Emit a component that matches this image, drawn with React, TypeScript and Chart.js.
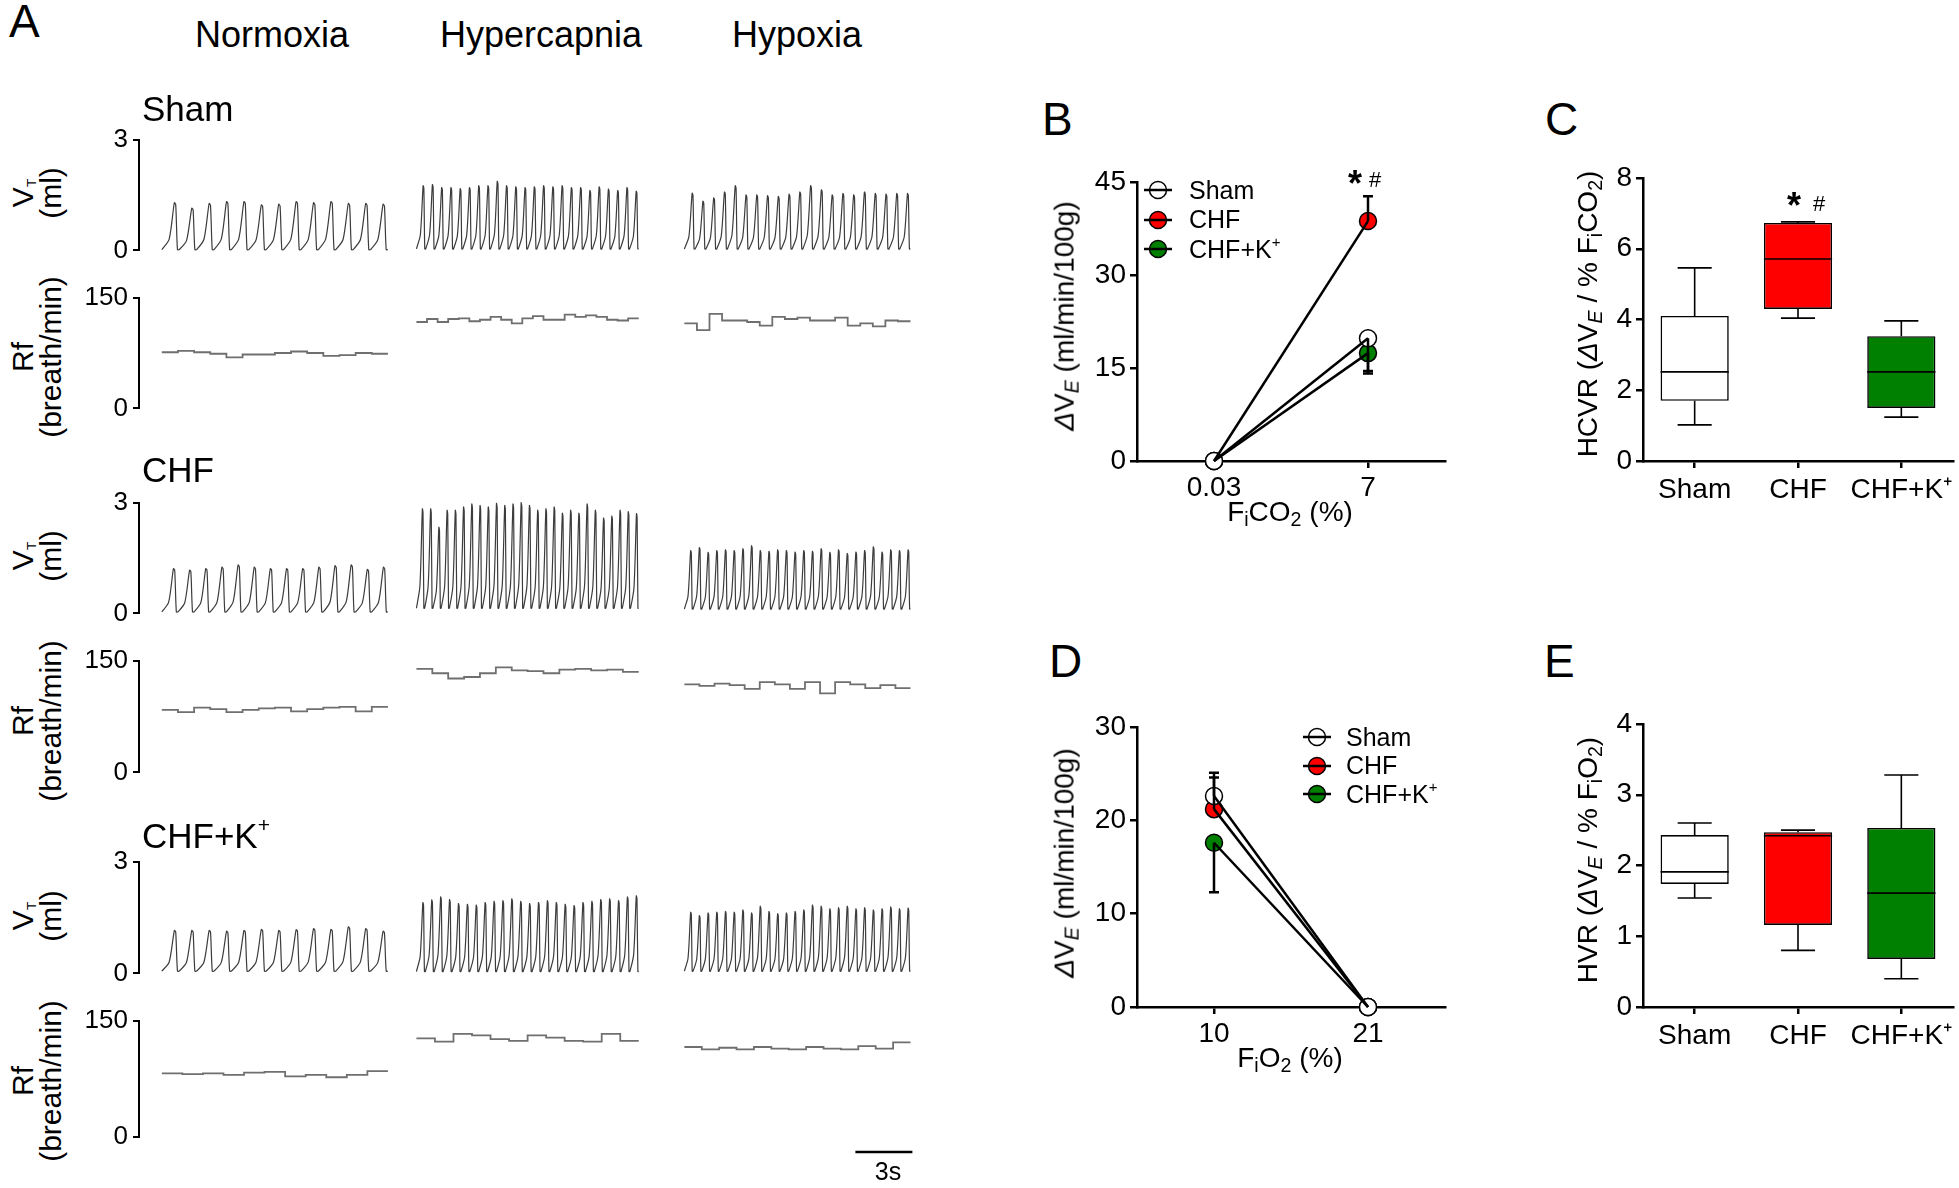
import React, { useEffect, useRef } from 'react';
import { Chart, registerables } from 'chart.js';

Chart.register(...registerables);

const FONT = '"Liberation Sans", Arial, Helvetica, sans-serif';
Chart.defaults.font.family = FONT;
Chart.defaults.color = '#000';

// ================= Panel A : raw traces =================
const conditionNames = ['Normoxia', 'Hypercapnia', 'Hypoxia'];
const groupNames = ['Sham', 'CHF', 'CHF+K'];
// time (s) of each recording segment on the shared time axis
const segmentStartS = [1.2, 14.6, 28.7];
const segmentEndS = [13.1, 26.3, 40.6];
const traceSpanS = 41.1;
const scaleBarStartS = 37.7;
const scaleBarLengthS = 3;
const vtMax = 3;
const rfMax = 150;

// tidal volume peak of each breath (ml)
const shamVtNormoxia = [1.29, 1.14, 1.27, 1.32, 1.32, 1.23, 1.25, 1.32, 1.29, 1.32, 1.27, 1.27, 1.25];
const shamVtHypercapnia = [1.75, 1.78, 1.7, 1.7, 1.67, 1.7, 1.75, 1.75, 1.87, 1.75, 1.72, 1.7, 1.72, 1.75, 1.72, 1.75, 1.7, 1.7, 1.62, 1.72, 1.66, 1.62, 1.7, 1.6];
const shamVtHypoxia = [1.55, 1.33, 1.42, 1.58, 1.75, 1.5, 1.5, 1.48, 1.46, 1.52, 1.58, 1.75, 1.64, 1.5, 1.54, 1.5, 1.58, 1.54, 1.52, 1.54, 1.54];
const chfVtNormoxia = [1.21, 1.17, 1.21, 1.25, 1.31, 1.25, 1.21, 1.21, 1.21, 1.25, 1.29, 1.31, 1.19, 1.25];
const chfVtHypercapnia = [2.83, 2.83, 2.33, 2.79, 2.79, 2.88, 2.96, 2.92, 2.88, 2.98, 2.92, 2.96, 3.0, 2.92, 2.79, 2.83, 2.88, 2.71, 2.79, 2.71, 2.96, 2.79, 2.58, 2.63, 2.79, 2.75, 2.7];
const chfVtHypoxia = [1.7, 1.78, 1.65, 1.7, 1.72, 1.7, 1.75, 1.83, 1.7, 1.68, 1.72, 1.7, 1.66, 1.7, 1.68, 1.75, 1.65, 1.72, 1.62, 1.66, 1.7, 1.8, 1.66, 1.72, 1.7, 1.72];
const chfkVtNormoxia = [1.15, 1.15, 1.15, 1.13, 1.15, 1.18, 1.15, 1.17, 1.2, 1.18, 1.25, 1.2, 1.13];
const chfkVtHypercapnia = [1.9, 1.97, 2.05, 1.98, 1.87, 1.85, 1.83, 1.9, 1.93, 1.95, 2.0, 1.93, 1.87, 1.9, 1.95, 1.9, 1.85, 1.82, 1.9, 1.93, 1.98, 2.0, 1.95, 2.05, 2.08];
const chfkVtHypoxia = [1.64, 1.55, 1.62, 1.64, 1.66, 1.64, 1.7, 1.62, 1.8, 1.66, 1.6, 1.62, 1.66, 1.7, 1.83, 1.8, 1.73, 1.76, 1.8, 1.73, 1.76, 1.7, 1.73, 1.78, 1.73, 1.75];
// end-expiratory level of each segment (ml)
const shamVtTrough = [0.02, 0.04, 0.04];
const chfVtTrough = [0.04, 0.14, 0.12];
const chfkVtTrough = [0.06, 0.05, 0.06];

// respiratory frequency, successive steps (breath/min)
const shamRfNormoxia = [76, 78, 76, 74, 69, 73, 73, 75, 77, 75, 71, 72, 75, 74];
const shamRfHypercapnia = [117, 121, 117, 121, 122, 118, 120, 124, 120, 115, 122, 125, 120, 120, 127, 124, 126, 124, 120, 119, 122];
const shamRfHypoxia = [115, 106, 128, 119, 119, 117, 112, 124, 121, 123, 119, 119, 123, 112, 115, 111, 119, 118];
const chfRfNormoxia = [84, 81, 87, 85, 81, 84, 86, 87, 82, 85, 87, 88, 82, 88];
const chfRfHypercapnia = [139, 133, 126, 128, 133, 141, 137, 136, 133, 138, 139, 137, 138, 135];
const chfRfHypoxia = [118, 116, 119, 117, 112, 121, 118, 112, 121, 106, 121, 118, 113, 117, 113];
const chfkRfNormoxia = [82, 81, 82, 80, 83, 84, 78, 80, 77, 80, 85];
const chfkRfHypercapnia = [127, 123, 133, 131, 126, 124, 131, 128, 124, 123, 133, 124];
const chfkRfHypoxia = [116, 113, 115, 113, 116, 114, 113, 116, 114, 113, 117, 114, 122];

const vtByGroup = [
  [shamVtNormoxia, shamVtHypercapnia, shamVtHypoxia],
  [chfVtNormoxia, chfVtHypercapnia, chfVtHypoxia],
  [chfkVtNormoxia, chfkVtHypercapnia, chfkVtHypoxia],
];
const vtTroughByGroup = [shamVtTrough, chfVtTrough, chfkVtTrough];
const rfByGroup = [
  [shamRfNormoxia, shamRfHypercapnia, shamRfHypoxia],
  [chfRfNormoxia, chfRfHypercapnia, chfRfHypoxia],
  [chfkRfNormoxia, chfkRfHypercapnia, chfkRfHypoxia],
];

// ================= Panel B / D : ventilatory response =================
const seriesNames = ['Sham', 'CHF', 'CHF+K'];
const seriesColors = ['#ffffff', '#ff0000', '#008000'];
const fico2Labels = ['0.03', '7'];
const bSham = [0, 19.8];
const bChf = [0, 38.7];
const bChfK = [0, 17.4];
const bShamSem = [0, 5.3];
const bChfSem = [0, 4.0];
const bChfKSem = [0, 3.3];
const bErrorSide = [-1, 1, -1];

const fio2Labels = ['10', '21'];
const dSham = [22.6, 0];
const dChf = [21.2, 0];
const dChfK = [17.6, 0];
const dShamSem = [2.5, 0];
const dChfSem = [3.4, 0];
const dChfKSem = [5.3, 0];
const dErrorSide = [1, 1, -1];

// ================= Panel C / E : box plots =================
const boxLabels = ['Sham', 'CHF', 'CHF+K\u207A'];
const boxColors = ['#ffffff', '#ff0000', '#008000'];
const hcvrMin = [1.02, 4.04, 1.24];
const hcvrQ1 = [1.7, 4.3, 1.5];
const hcvrMedian = [2.52, 5.71, 2.52];
const hcvrQ3 = [4.1, 6.73, 3.53];
const hcvrMax = [5.46, 6.76, 3.96];
const hvrMin = [1.54, 0.8, 0.4];
const hvrQ1 = [1.74, 1.16, 0.68];
const hvrMedian = [1.91, 2.42, 1.61];
const hvrQ3 = [2.43, 2.47, 2.53];
const hvrMax = [2.6, 2.5, 3.28];

// ================= helpers =================
type Rect = { l: number; t: number; r: number; b: number };

function place(area: Rect, yW: number, xH: number, pad: Rect) {
  return {
    left: area.l - yW - pad.l,
    top: area.t - pad.t,
    width: area.r - area.l + yW + pad.l + pad.r,
    height: area.b - area.t + xH + pad.t + pad.b,
    padding: { left: pad.l, top: pad.t, right: pad.r, bottom: pad.b },
  };
}

function axisStyle(tickLen: number, width: number, gridExtra: any = {}) {
  return {
    grid: { display: true, drawOnChartArea: false, drawTicks: true, tickLength: tickLen, color: '#000', lineWidth: width, ...gridExtra },
    border: { display: true, color: '#000', width },
  };
}

// drawing style of one breath: [fraction of cycle, fraction of amplitude]
const breathShape = [
  [0, 0],
  [0.42, 0.22],
  [0.72, 1],
  [0.8, 0.96],
  [0.9, 0],
];

function vtPoints(peaks: number[], trough: number, s: number, e: number) {
  const p = (e - s) / peaks.length;
  const pts: { x: number; y: number }[] = [];
  peaks.forEach((pk, i) => {
    breathShape.forEach(([fx, fy]) => pts.push({ x: s + (i + fx) * p, y: trough + fy * (pk - trough) }));
  });
  pts.push({ x: e, y: trough });
  return pts;
}

function rfPoints(values: number[], s: number, e: number) {
  const step = (e - s) / values.length;
  const pts = values.map((v, i) => ({ x: s + i * step, y: v }));
  pts.push({ x: e, y: values[values.length - 1] });
  return pts;
}

const scaleBarPlugin = {
  id: 'scaleBar',
  afterDraw(chart: any) {
    const x = chart.scales.x;
    const ctx = chart.ctx;
    const x0 = x.getPixelForValue(scaleBarStartS);
    const x1 = x.getPixelForValue(scaleBarStartS + scaleBarLengthS);
    const y = chart.chartArea.bottom + 15;
    ctx.save();
    ctx.strokeStyle = '#000';
    ctx.lineWidth = 2.5;
    ctx.beginPath();
    ctx.moveTo(x0, y);
    ctx.lineTo(x1, y);
    ctx.stroke();
    ctx.restore();
  },
};

function traceChart(kind: 'vt' | 'rf', g: number, area: Rect, withScaleBar: boolean) {
  const yW = 70;
  const p = place(area, yW, 0, { l: 0, t: 16, r: 10, b: withScaleBar ? 30 : 16 });
  const yMax = kind === 'vt' ? vtMax : rfMax;
  const datasets = conditionNames.map((_, c) =>
    kind === 'vt'
      ? {
          data: vtPoints(vtByGroup[g][c], vtTroughByGroup[g][c], segmentStartS[c], segmentEndS[c]),
          borderColor: '#3c3c3c',
          borderWidth: 1.2,
          pointRadius: 0,
          tension: 0.25,
          clip: false,
        }
      : {
          data: rfPoints(rfByGroup[g][c], segmentStartS[c], segmentEndS[c]),
          borderColor: '#6f6f6f',
          borderWidth: 1.8,
          pointRadius: 0,
          stepped: true,
          clip: false,
        }
  );
  const config: any = {
    type: 'line',
    data: { datasets },
    options: {
      responsive: false,
      animation: false,
      devicePixelRatio: 1,
      events: [],
      layout: { padding: p.padding },
      plugins: { legend: { display: false }, tooltip: { enabled: false } },
      scales: {
        x: { type: 'linear', min: 0, max: traceSpanS, display: false },
        y: {
          type: 'linear',
          min: 0,
          max: yMax,
          afterFit: (s: any) => {
            s.width = yW;
          },
          ticks: { stepSize: yMax, font: { size: 26 }, color: '#000', padding: 5 },
          ...axisStyle(6, 2),
        },
      },
    },
    plugins: withScaleBar ? [scaleBarPlugin] : [],
  };
  return { ...p, config };
}

function errorBarPlugin(values: number[][], sems: number[][], sides: number[]) {
  return {
    id: 'errorBars',
    afterDatasetsDraw(chart: any) {
      const x = chart.scales.x;
      const y = chart.scales.y;
      const ctx = chart.ctx;
      ctx.save();
      ctx.strokeStyle = '#000';
      ctx.lineWidth = 2.5;
      values.forEach((vals, k) => {
        vals.forEach((v, i) => {
          const sem = sems[k][i];
          if (!sem) return;
          const px = x.getPixelForValue(i);
          const y0 = y.getPixelForValue(v);
          const y1 = y.getPixelForValue(v + sides[k] * sem);
          ctx.beginPath();
          ctx.moveTo(px, y0);
          ctx.lineTo(px, y1);
          ctx.moveTo(px - 5, y1);
          ctx.lineTo(px + 5, y1);
          ctx.stroke();
        });
      });
      ctx.restore();
    },
  };
}

function responseChart(labels: string[], values: number[][], sems: number[][], sides: number[], yMax: number, yStep: number, area: Rect) {
  const yW = 75;
  const xH = 50;
  const p = place(area, yW, xH, { l: 0, t: 24, r: 12, b: 0 });
  const pointSets = values.map((v, k) => ({
    data: v,
    showLine: false,
    pointRadius: 8.5,
    pointBackgroundColor: seriesColors[k],
    pointBorderColor: '#000',
    pointBorderWidth: 1.5,
    order: 1 + k,
    clip: false,
  }));
  const lineSets = values.map((v) => ({
    data: v,
    borderColor: '#000',
    borderWidth: 2.5,
    pointRadius: 0,
    order: 0,
    clip: false,
  }));
  const config: any = {
    type: 'line',
    data: { labels, datasets: [...pointSets, ...lineSets] },
    options: {
      responsive: false,
      animation: false,
      devicePixelRatio: 1,
      events: [],
      layout: { padding: p.padding },
      plugins: { legend: { display: false }, tooltip: { enabled: false } },
      scales: {
        x: {
          type: 'category',
          offset: true,
          afterFit: (s: any) => {
            s.height = xH;
          },
          ticks: { font: { size: 28 }, color: '#000', padding: 3, maxRotation: 0, minRotation: 0, autoSkip: false },
          ...axisStyle(7, 2.5, { offset: false }),
        },
        y: {
          type: 'linear',
          min: 0,
          max: yMax,
          afterFit: (s: any) => {
            s.width = yW;
          },
          ticks: { stepSize: yStep, font: { size: 28 }, color: '#000', padding: 4 },
          ...axisStyle(7, 2.5),
        },
      },
    },
    plugins: [errorBarPlugin(values, sems, sides)],
  };
  return { ...p, config };
}

function boxPlugin(mins: number[], q1s: number[], meds: number[], q3s: number[], maxs: number[]) {
  return {
    id: 'boxWhiskers',
    afterDatasetsDraw(chart: any) {
      const y = chart.scales.y;
      const meta = chart.getDatasetMeta(0);
      const ctx = chart.ctx;
      const py = (v: number) => y.getPixelForValue(v);
      ctx.save();
      ctx.strokeStyle = '#000';
      ctx.lineWidth = 1.6;
      meta.data.forEach((bar: any, i: number) => {
        const { x, width } = bar.getProps(['x', 'width'], true);
        const half = width / 2;
        const cap = width / 4;
        ctx.beginPath();
        ctx.moveTo(x - half, py(meds[i]));
        ctx.lineTo(x + half, py(meds[i]));
        ctx.moveTo(x, py(q3s[i]));
        ctx.lineTo(x, py(maxs[i]));
        ctx.moveTo(x - cap, py(maxs[i]));
        ctx.lineTo(x + cap, py(maxs[i]));
        ctx.moveTo(x, py(q1s[i]));
        ctx.lineTo(x, py(mins[i]));
        ctx.moveTo(x - cap, py(mins[i]));
        ctx.lineTo(x + cap, py(mins[i]));
        ctx.stroke();
      });
      ctx.restore();
    },
  };
}

function boxChart(mins: number[], q1s: number[], meds: number[], q3s: number[], maxs: number[], yMax: number, yStep: number, area: Rect) {
  const yW = 75;
  const xH = 55;
  const p = place(area, yW, xH, { l: 0, t: 24, r: 6, b: 0 });
  const config: any = {
    type: 'bar',
    data: {
      labels: boxLabels,
      datasets: [
        {
          data: q1s.map((q, i) => [q, q3s[i]]),
          backgroundColor: boxColors,
          borderColor: '#000',
          borderWidth: 1.6,
          borderSkipped: false,
          barPercentage: 0.66,
          categoryPercentage: 1,
        },
      ],
    },
    options: {
      responsive: false,
      animation: false,
      devicePixelRatio: 1,
      events: [],
      layout: { padding: p.padding },
      plugins: { legend: { display: false }, tooltip: { enabled: false } },
      scales: {
        x: {
          type: 'category',
          afterFit: (s: any) => {
            s.height = xH;
          },
          ticks: { font: { size: 28 }, color: '#000', padding: 5, maxRotation: 0, minRotation: 0, autoSkip: false },
          ...axisStyle(7, 2.5, { offset: false }),
        },
        y: {
          type: 'linear',
          min: 0,
          max: yMax,
          afterFit: (s: any) => {
            s.width = yW;
          },
          ticks: { stepSize: yStep, font: { size: 28 }, color: '#000', padding: 4 },
          ...axisStyle(7, 2.5),
        },
      },
    },
    plugins: [boxPlugin(mins, q1s, meds, q3s, maxs)],
  };
  return { ...p, config };
}

// ================= components =================
function ChartBox({ spec }: { spec: { left: number; top: number; width: number; height: number; config: any } }) {
  const ref = useRef<HTMLCanvasElement>(null);
  useEffect(() => {
    const chart = new Chart(ref.current as HTMLCanvasElement, spec.config);
    return () => chart.destroy();
  }, []);
  return (
    <canvas
      ref={ref}
      width={spec.width}
      height={spec.height}
      style={{ position: 'absolute', left: spec.left, top: spec.top, width: spec.width, height: spec.height }}
    />
  );
}

const subStyle: React.CSSProperties = { fontSize: '0.7em', verticalAlign: '-0.28em', lineHeight: 0 };
const supStyle: React.CSSProperties = { fontSize: '0.6em', verticalAlign: '0.75em', lineHeight: 0 };

function HText({ x, base, size, align = 'left', bold = false, children }: any) {
  const style: React.CSSProperties = {
    position: 'absolute',
    left: x,
    top: base - 0.8465 * size,
    fontSize: size,
    lineHeight: 1,
    whiteSpace: 'nowrap',
    fontWeight: bold ? 'bold' : 'normal',
    transform: align === 'center' ? 'translateX(-50%)' : undefined,
  };
  return <div style={style}>{children}</div>;
}

function VText({ cx, cy, size, lineHeight = 1.1, children }: any) {
  return (
    <div
      style={{
        position: 'absolute',
        left: cx,
        top: cy,
        transform: 'translate(-50%, -50%) rotate(-90deg)',
        fontSize: size,
        lineHeight,
        whiteSpace: 'nowrap',
        textAlign: 'center',
      }}
    >
      {children}
    </div>
  );
}

function LegendRow({ cx, cy, textX, color, children }: any) {
  return (
    <>
      <svg width={32} height={22} style={{ position: 'absolute', left: cx - 16, top: cy - 11 }}>
        <circle cx={16} cy={11} r={8.5} fill={color} stroke="#000" strokeWidth={1.5} />
        <line x1={2} y1={11} x2={30} y2={11} stroke="#000" strokeWidth={2.5} />
      </svg>
      <HText x={textX} base={cy + 9} size={25}>
        {children}
      </HText>
    </>
  );
}

function GroupLabel({ i }: { i: number }) {
  const name = groupNames[i];
  return i === 2 ? (
    <>
      {name}
      <sup style={supStyle}>+</sup>
    </>
  ) : (
    <>{name}</>
  );
}

const dVE = (
  <>
    <i>Δ</i>V<sub style={subStyle}>
      <i>E</i>
    </sub>
  </>
);

export default function App() {
  const groupTops = [
    { vt: [135, 255], rf: [293, 413], label: 121 },
    { vt: [498, 618], rf: [656, 777], label: 482 },
    { vt: [857, 978], rf: [1016, 1137], label: 848 },
  ];
  const traceLeft = 139;
  const traceRight = 920;

  const traceSpecs: any[] = [];
  groupTops.forEach((g, i) => {
    traceSpecs.push(traceChart('vt', i, { l: traceLeft, t: g.vt[0], r: traceRight, b: g.vt[1] }, false));
    traceSpecs.push(traceChart('rf', i, { l: traceLeft, t: g.rf[0], r: traceRight, b: g.rf[1] }, i === 2));
  });

  const specB = responseChart(
    fico2Labels,
    [bSham, bChf, bChfK],
    [bShamSem, bChfSem, bChfKSem],
    bErrorSide,
    45,
    15,
    { l: 1137, t: 182, r: 1445, b: 461 }
  );
  const specD = responseChart(
    fio2Labels,
    [dSham, dChf, dChfK],
    [dShamSem, dChfSem, dChfKSem],
    dErrorSide,
    30,
    10,
    { l: 1137, t: 727, r: 1445, b: 1007 }
  );
  const specC = boxChart(hcvrMin, hcvrQ1, hcvrMedian, hcvrQ3, hcvrMax, 8, 2, { l: 1643, t: 178, r: 1953, b: 461 });
  const specE = boxChart(hvrMin, hvrQ1, hvrMedian, hvrQ3, hvrMax, 4, 1, { l: 1643, t: 724, r: 1953, b: 1007 });

  const columnCenters = [272, 541, 797];

  return (
    <div
      style={{
        position: 'absolute',
        left: 0,
        top: 0,
        width: 1959,
        height: 1188,
        background: '#fff',
        overflow: 'hidden',
        fontFamily: FONT,
        color: '#000',
      }}
    >
      {traceSpecs.map((s, i) => (
        <ChartBox key={'t' + i} spec={s} />
      ))}
      <ChartBox spec={specB} />
      <ChartBox spec={specC} />
      <ChartBox spec={specD} />
      <ChartBox spec={specE} />

      {/* panel letters */}
      <HText x={9} base={37} size={46}>A</HText>
      <HText x={1042} base={135} size={46}>B</HText>
      <HText x={1545} base={135} size={46}>C</HText>
      <HText x={1049} base={677} size={46}>D</HText>
      <HText x={1544} base={677} size={46}>E</HText>

      {/* panel A headings */}
      {conditionNames.map((c, i) => (
        <HText key={c} x={columnCenters[i]} base={47} size={36} align="center">
          {c}
        </HText>
      ))}
      {groupTops.map((g, i) => (
        <React.Fragment key={'g' + i}>
          <HText x={142} base={g.label} size={35}>
            <GroupLabel i={i} />
          </HText>
          <VText cx={37} cy={(g.vt[0] + g.vt[1]) / 2 - 2} size={30} lineHeight={0.93}>
            V<sub style={{ fontSize: '0.45em', verticalAlign: '-0.2em', lineHeight: 0 }}>T</sub>
            <br />
            (ml)
          </VText>
          <VText cx={37} cy={(g.rf[0] + g.rf[1]) / 2 + 4} size={30} lineHeight={0.93}>
            Rf
            <br />
            (breath/min)
          </VText>
        </React.Fragment>
      ))}
      <HText x={888} base={1180} size={25} align="center">
        3s
      </HText>

      {/* panel B texts */}
      <VText cx={1065} cy={316} size={28}>
        {dVE} (ml/min/100g)
      </VText>
      <HText x={1290} base={522} size={28} align="center">
        F<sub style={subStyle}>i</sub>CO<sub style={subStyle}>2</sub> (%)
      </HText>
      {seriesNames.map((n, k) => (
        <LegendRow key={'lb' + k} cx={1158} cy={190 + k * 29.5} textX={1189} color={seriesColors[k]}>
          {n}
          {k === 2 ? <sup style={supStyle}>+</sup> : null}
        </LegendRow>
      ))}
      <HText x={1348} base={196} size={36} bold>*</HText>
      <HText x={1369} base={188} size={22}>#</HText>

      {/* panel C texts */}
      <VText cx={1588} cy={314} size={28}>
        HCVR ({dVE} / % F<sub style={subStyle}>i</sub>CO<sub style={subStyle}>2</sub>)
      </VText>
      <HText x={1787} base={218} size={36} bold>*</HText>
      <HText x={1813} base={212} size={22}>#</HText>

      {/* panel D texts */}
      <VText cx={1065} cy={863} size={28}>
        {dVE} (ml/min/100g)
      </VText>
      <HText x={1290} base={1068} size={28} align="center">
        F<sub style={subStyle}>i</sub>O<sub style={subStyle}>2</sub> (%)
      </HText>
      {seriesNames.map((n, k) => (
        <LegendRow key={'ld' + k} cx={1317} cy={737 + k * 28.5} textX={1346} color={seriesColors[k]}>
          {n}
          {k === 2 ? <sup style={supStyle}>+</sup> : null}
        </LegendRow>
      ))}

      {/* panel E texts */}
      <VText cx={1588} cy={860} size={28}>
        HVR ({dVE} / % F<sub style={subStyle}>i</sub>O<sub style={subStyle}>2</sub>)
      </VText>
    </div>
  );
}
